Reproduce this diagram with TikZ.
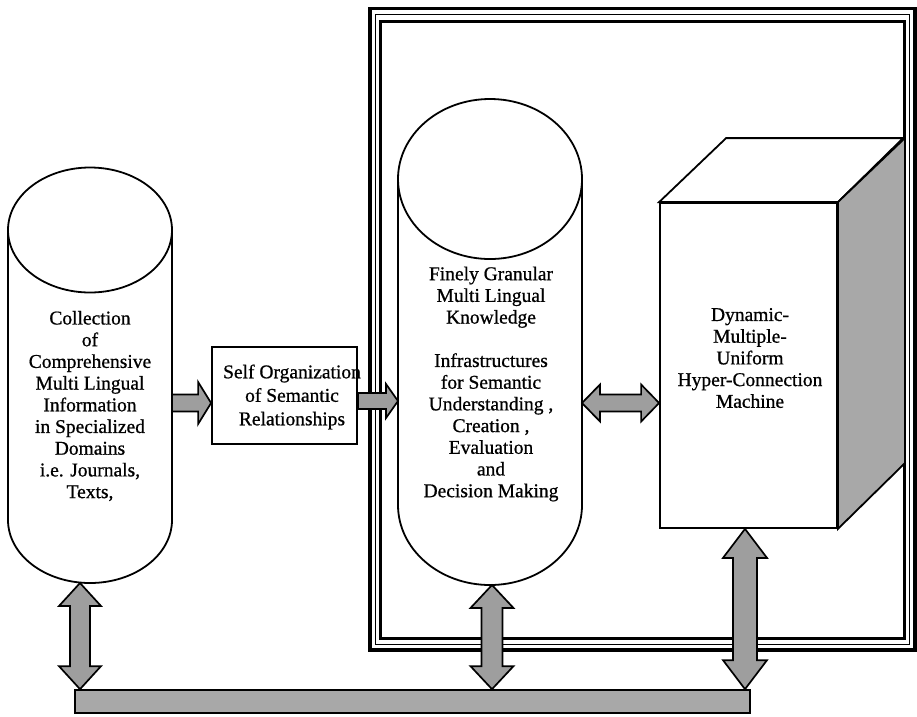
\documentclass[tikz,border=0pt]{standalone}
\usepackage{fontspec}
\setmainfont{Liberation Serif}
\newfontfamily\heavyserif[FakeBold=0.8]{Liberation Serif}
\usetikzlibrary{calc}

\tikzset{
  outline/.style={draw=black, line width=1.8pt, line join=miter},
  blk/.style={draw=black, line width=1.7pt, fill=black!38, line join=miter},
  lbl/.style={align=center, inner sep=0pt, font=\heavyserif\fontsize{19.5}{21.7}\selectfont},
}

% single block arrow pointing right: from, to, shaft half width, head half width, head length
\newcommand{\blkR}[5]{%
  \path[blk] let \p1=(#1), \p2=(#2) in
    (\x1,{\y1+#3}) -- ({\x2-#5},{\y1+#3}) -- ({\x2-#5},{\y1+#4}) -- (\x2,\y1)
    -- ({\x2-#5},{\y1-#4}) -- ({\x2-#5},{\y1-#3}) -- (\x1,{\y1-#3}) -- cycle;}
% horizontal double block arrow
\newcommand{\blkH}[5]{%
  \path[blk] let \p1=(#1), \p2=(#2) in
    (\x1,\y1) -- ({\x1+#5},{\y1+#4}) -- ({\x1+#5},{\y1+#3}) -- ({\x2-#5},{\y1+#3})
    -- ({\x2-#5},{\y1+#4}) -- (\x2,\y1) -- ({\x2-#5},{\y1-#4}) -- ({\x2-#5},{\y1-#3})
    -- ({\x1+#5},{\y1-#3}) -- ({\x1+#5},{\y1-#4}) -- cycle;}
% vertical double block arrow (first point on top)
\newcommand{\blkV}[5]{%
  \path[blk] let \p1=(#1), \p2=(#2) in
    (\x1,\y1) -- ({\x1+#4},{\y1-#5}) -- ({\x1+#3},{\y1-#5}) -- ({\x1+#3},{\y2+#5})
    -- ({\x1+#4},{\y2+#5}) -- (\x1,\y2) -- ({\x1-#4},{\y2+#5}) -- ({\x1-#3},{\y2+#5})
    -- ({\x1-#3},{\y1-#5}) -- ({\x1-#4},{\y1-#5}) -- cycle;}

\begin{document}
\begin{tikzpicture}[x=1pt,y=-1pt]
\useasboundingbox (0,0) rectangle (917,716);

% framed subsystem: thick, thin and thick rules
\draw[line width=3.5pt] (370,8.5) rectangle (915,650);
\draw[line width=1pt] (375,14.5) rectangle (909.5,644);
\draw[line width=2.6pt] (380.5,21.5) rectangle (904.5,638.5);

% left cylinder: information collection
\draw[outline] (8,230) -- (8,520) arc[start angle=180, end angle=0, x radius=82, y radius=63] -- (172,230);
\draw[outline] (90,230) ellipse[x radius=82, y radius=62.5];
\node[lbl] (lcyl) at (90,406) {Collection\\of\\Comprehensive\\Multi Lingual\\Information\\in Specialized\\Domains\\i.e. Journals,\\Texts,};
\coordinate (lcyl-e) at (172,403);
\coordinate (lcyl-s) at (80,583);

% self organization box
\node[outline, minimum width=145pt, minimum height=97pt, inner sep=0pt] (org) at (284.5,395.5) {};
\node[lbl, font=\heavyserif\fontsize{19.5}{23.5}\selectfont] (orgtext) at (292,397) {Self Organization\\of Semantic\\Relationships};

% middle cylinder: knowledge infrastructures
\draw[outline] (398,179) -- (398,505) arc[start angle=180, end angle=0, x radius=92, y radius=80] -- (582,179);
\draw[outline] (490,179) ellipse[x radius=92, y radius=80];
\node[lbl] (mcyl) at (491,384) {Finely Granular\\Multi Lingual\\Knowledge\\[21.7pt]Infrastructures\\for Semantic\\Understanding ,\\Creation ,\\Evaluation\\and\\Decision Making};
\coordinate (mcyl-w) at (398,401);
\coordinate (mcyl-e) at (582,403);
\coordinate (mcyl-s) at (492,585);

% hyper-connection machine (box in perspective)
\node[outline, fill=white, minimum width=177pt, minimum height=325pt, inner sep=0pt] (cube) at (748.5,365.5) {};
\draw[outline, fill=white] (cube.north west) -- ++(67,-64) -- ++(177,0) -- (cube.north east) -- cycle;
\draw[outline, fill=black!34] (cube.north east) -- ++(67,-64) -- ++(0,325) -- (cube.south east) -- cycle;
\node[lbl] (cubetext) at (750,358) {Dynamic-\\Multiple-\\Uniform\\Hyper-Connection\\Machine};
\coordinate (cube-s) at ([xshift=-3.5pt]cube.south);

% common bus
\node[blk, fill=black!34, minimum width=675pt, minimum height=23pt, inner sep=0pt] (bus) at (412.5,701.5) {};

% connectors
\blkR{lcyl-e}{org.west}{8.5pt}{21pt}{13pt}
\blkR{org.east |- mcyl-w}{mcyl-w}{8pt}{17pt}{12pt}
\blkH{mcyl-e}{cube.west |- mcyl-e}{8.5pt}{18.5pt}{18pt}
\blkV{lcyl-s}{lcyl-s |- bus.north}{10pt}{21pt}{23pt}
\blkV{mcyl-s}{mcyl-s |- bus.north}{10.5pt}{21.5pt}{23pt}
\blkV{cube-s}{cube-s |- bus.north}{12pt}{22pt}{29pt}
\end{tikzpicture}
\end{document}
